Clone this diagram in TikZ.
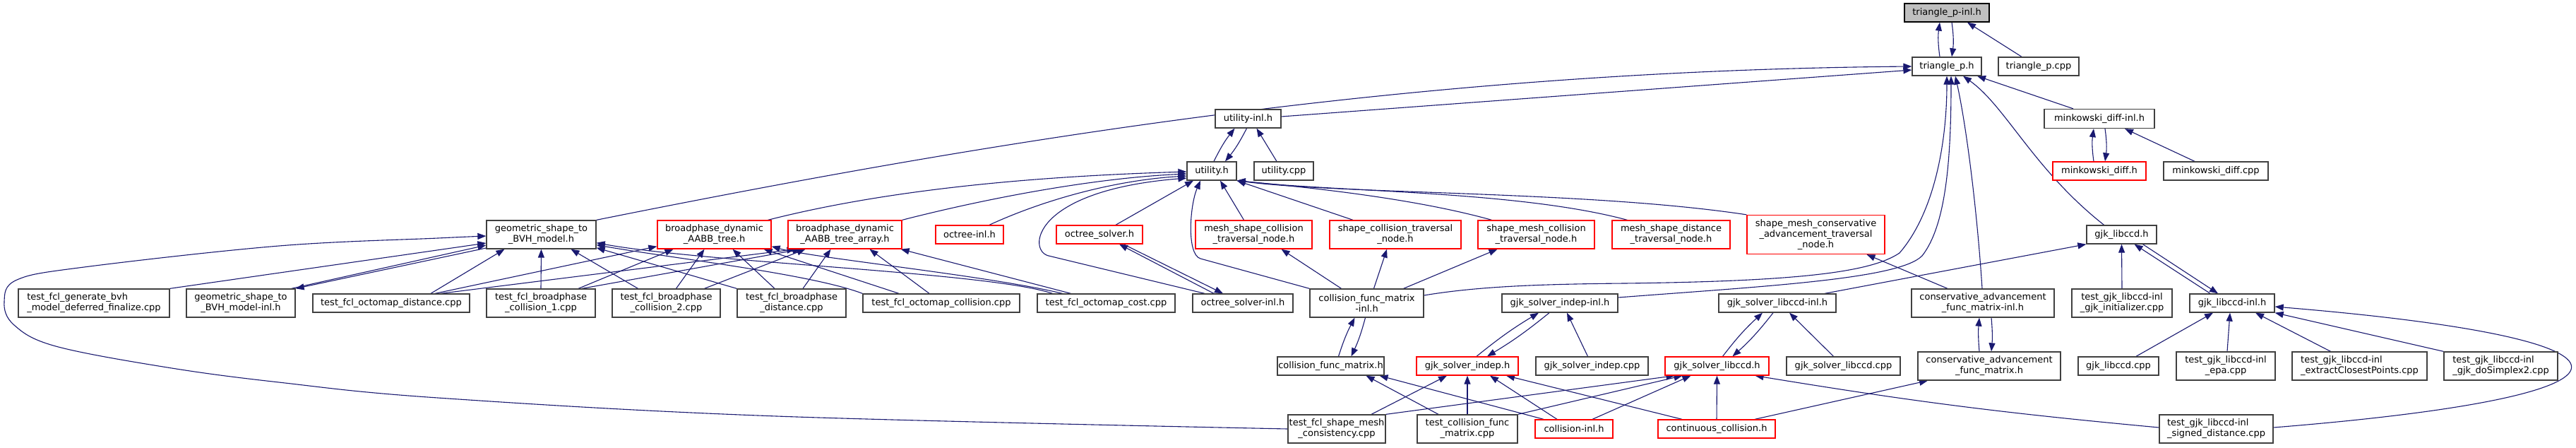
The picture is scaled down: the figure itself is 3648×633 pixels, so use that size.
\documentclass[tikz,border=0pt]{standalone}
\usepackage{fontspec}
\newfontfamily\dvfont{DejaVu Sans}
\usetikzlibrary{arrows.meta}
\definecolor{edgeblue}{HTML}{191970}
\definecolor{nodegray}{HTML}{404040}
\definecolor{rootgray}{HTML}{BFBFBF}
\definecolor{nodered}{HTML}{FF0000}
\pgfdeclarelayer{bg}
\pgfsetlayers{bg,main}
\tikzset{
  nb/.style={draw=nodegray, fill=white, line width=1.3pt, inner sep=0pt, align=center, font=\dvfont\fontsize{13pt}{15pt}\selectfont},
  nr/.style={nb, draw=nodered},
  nroot/.style={nb, draw=black, fill=rootgray},
  edg/.style={draw=edgeblue, line width=1.1pt, -{Triangle[length=12pt,width=9pt]}},
}
\newcommand\bx[6]{\node[#1,minimum width=#2pt,minimum height=#3pt] (#4) at (#5) {#6};}
\begin{document}
\begin{tikzpicture}[x=1pt,y=-1pt]
\useasboundingbox (0,0) rectangle (3648,633);
% rank 1-4
\bx{nroot}{120}{26}{tpinl}{2757,18}{triangle\_p-inl.h}
\bx{nb}{98}{26}{tph}{2757,94}{triangle\_p.h}
\bx{nb}{114}{26}{tpcpp}{2887,94}{triangle\_p.cpp}
\bx{nb}{156}{27}{mdinl}{2973,168}{minkowski\_diff-inl.h}
\bx{nr}{132}{26}{mdh}{2973,242}{minkowski\_diff.h}
\bx{nb}{148}{26}{mdcpp}{3138,242}{minkowski\_diff.cpp}
\bx{nb}{93}{26}{uinl}{1767.5,168}{utility-inl.h}
\bx{nb}{70}{26}{uh}{1716,242}{utility.h}
\bx{nb}{84}{26}{ucpp}{1818,242}{utility.cpp}
% rank 5
\bx{nb}{155}{40}{geo}{766.5,332}{geometric\_shape\_to\\\_BVH\_model.h}
\bx{nr}{161}{40}{bdt}{1011.5,332}{broadphase\_dynamic\\\_AABB\_tree.h}
\bx{nr}{161}{40}{bdta}{1196.5,332}{broadphase\_dynamic\\\_AABB\_tree\_array.h}
\bx{nr}{96}{26}{oinl}{1373,332}{octree-inl.h}
\bx{nr}{122}{26}{os}{1557,332}{octree\_solver.h}
\bx{nr}{165}{40}{mscol}{1775.5,332}{mesh\_shape\_collision\\\_traversal\_node.h}
\bx{nr}{186}{40}{sct}{1976,332}{shape\_collision\_traversal\\\_node.h}
\bx{nr}{165}{40}{smct}{2175.5,332}{shape\_mesh\_collision\\\_traversal\_node.h}
\bx{nr}{167}{40}{msdt}{2366.5,332}{mesh\_shape\_distance\\\_traversal\_node.h}
\bx{nr}{195}{55}{smca}{2571.5,332}{shape\_mesh\_conservative\\\_advancement\_traversal\\\_node.h}
\bx{nb}{99}{26}{gjkh}{3004.5,332}{gjk\_libccd.h}
% rank 6
\bx{nb}{214}{40}{tgen}{133,429}{\begin{tabular}{@{}l@{}}test\_fcl\_generate\_bvh\\\_model\_deferred\_finalize.cpp\end{tabular}}
\bx{nb}{154}{40}{geoinl}{341,429}{geometric\_shape\_to\\\_BVH\_model-inl.h}
\bx{nb}{222}{26}{tod}{554,429}{test\_fcl\_octomap\_distance.cpp}
\bx{nb}{154}{40}{tbc1}{766,429}{test\_fcl\_broadphase\\\_collision\_1.cpp}
\bx{nb}{153}{40}{tbc2}{943.5,429}{test\_fcl\_broadphase\\\_collision\_2.cpp}
\bx{nb}{154}{40}{tbd}{1121,429}{test\_fcl\_broadphase\\\_distance.cpp}
\bx{nb}{222}{26}{toc}{1333,429}{test\_fcl\_octomap\_collision.cpp}
\bx{nb}{195}{26}{tocost}{1566.5,429}{test\_fcl\_octomap\_cost.cpp}
\bx{nb}{142}{26}{osinl}{1760,429}{octree\_solver-inl.h}
\bx{nb}{161}{40}{cfminl}{1935.5,429}{collision\_func\_matrix\\-inl.h}
\bx{nb}{164}{26}{gsiinl}{2209,429}{gjk\_solver\_indep-inl.h}
\bx{nb}{166}{26}{gslinl}{2517,429}{gjk\_solver\_libccd-inl.h}
\bx{nb}{202}{40}{cafminl}{2808,429}{conservative\_advancement\\\_func\_matrix-inl.h}
\bx{nb}{142}{40}{tgjkinit}{3005,429}{test\_gjk\_libccd-inl\\\_gjk\_initializer.cpp}
\bx{nb}{120}{26}{gjkinl}{3161,429}{gjk\_libccd-inl.h}
% rank 7
\bx{nb}{151}{26}{cfmh}{1884.5,518}{collision\_func\_matrix.h}
\bx{nr}{144}{26}{gsih}{2078,518}{gjk\_solver\_indep.h}
\bx{nb}{159}{26}{gsicpp}{2254.5,518}{gjk\_solver\_indep.cpp}
\bx{nr}{147}{26}{gslh}{2431.5,518}{gjk\_solver\_libccd.h}
\bx{nb}{161}{26}{gslcpp}{2610.5,518}{gjk\_solver\_libccd.cpp}
\bx{nb}{202}{40}{cafmh}{2817,518}{conservative\_advancement\\\_func\_matrix.h}
\bx{nb}{114}{26}{gjkcpp}{3000,518}{gjk\_libccd.cpp}
\bx{nb}{140}{40}{tepa}{3152,518}{test\_gjk\_libccd-inl\\\_epa.cpp}
\bx{nb}{191}{40}{tecp}{3341.5,518}{\begin{tabular}{@{}l@{}}test\_gjk\_libccd-inl\\\_extractClosestPoints.cpp\end{tabular}}
\bx{nb}{161}{40}{tds2}{3541.5,518}{\begin{tabular}{@{}l@{}}test\_gjk\_libccd-inl\\\_gjk\_doSimplex2.cpp\end{tabular}}
% rank 8
\bx{nb}{138}{40}{tsmc}{1893,607}{test\_fcl\_shape\_mesh\\\_consistency.cpp}
\bx{nb}{142}{40}{tcfm}{2078,607}{test\_collision\_func\\\_matrix.cpp}
\bx{nr}{110}{26}{cinl}{2229,607}{collision-inl.h}
\bx{nr}{166}{26}{cc}{2431,607}{continuous\_collision.h}
\bx{nb}{161}{40}{tsd}{3138.5,607}{\begin{tabular}{@{}l@{}}test\_gjk\_libccd-inl\\\_signed\_distance.cpp\end{tabular}}

\begin{pgfonlayer}{bg}
\fill[white] (0,0) rectangle (3648,633);
% top cluster
\draw[edg] ([xshift=-10pt]tph.north) to[bend left=8] ([xshift=-10pt]tpinl.south);
\draw[edg] ([xshift=7pt]tpinl.south) to[bend left=8] ([xshift=7pt]tph.north);
\draw[edg] ([xshift=-24pt]tpcpp.north) -- ([xshift=29pt]tpinl.south);
\draw[edg] (geo.north east) .. controls (1400,200) and (2000,100) .. (tph.west);
\draw[edg] ([yshift=3pt]uinl.east) -- ([yshift=-5pt]tph.west);
\draw[edg] ([yshift=11pt]cfminl.east) .. controls (2100,404) and (2200,402) .. (2300,401) .. controls (2550,398) and (2650,385) .. (2690,358) .. controls (2740,300) and (2757,200) .. (tph.south);
\draw[edg] ([yshift=8pt]gsiinl.east) .. controls (2500,405) and (2690,395) .. (2722,362) .. controls (2755,320) and (2763,230) .. ([xshift=6pt]tph.south);
\draw[edg] ([xshift=-1pt]cafminl.north) .. controls (2800,300) and (2785,180) .. ([xshift=12pt]tph.south);
\draw[edg] ([xshift=-25pt]gjkh.north) .. controls (2880,240) and (2840,150) .. ([xshift=23pt]tph.south);
\draw[edg] ([xshift=-37pt]mdinl.north) -- ([xshift=43pt]tph.south);
\draw[edg] ([xshift=-8pt]mdh.north) to[bend left=8] ([xshift=-8pt]mdinl.south);
\draw[edg] ([xshift=8pt]mdinl.south) to[bend left=8] ([xshift=8pt]mdh.north);
\draw[edg] ([xshift=-30pt]mdcpp.north) -- ([xshift=36pt]mdinl.south);
% utility cluster
\draw[edg] ([xshift=-60pt]sct.north) -- (uh.south east);
\draw[edg] ([xshift=-63pt]smct.north) .. controls (2000,280) and (1850,265) .. (uh.south east);
\draw[edg] ([xshift=-62pt]msdt.north) .. controls (2150,270) and (1900,272) .. (uh.south east);
\draw[edg] (smca.north west) .. controls (2250,270) and (1900,275) .. (uh.south east);
\draw[edg] ([xshift=-14pt]mscol.north) -- ([xshift=12pt]uh.south);
\draw[edg] ([xshift=23pt]os.north) -- ([xshift=-26pt]uh.south);
\draw[edg] ([xshift=-54pt]osinl.north) -- (1485,362) .. controls (1455,355) and (1460,270) .. ([yshift=-10pt]uh.west);
\draw[edg] (cfminl.north west) -- (1700,366) .. controls (1680,360) and (1685,290) .. ([xshift=-16pt]uh.south);
\draw[edg] ([xshift=76pt]bdt.north) .. controls (1250,270) and (1450,250) .. ([yshift=-1pt]uh.west);
\draw[edg] (bdta.north east) .. controls (1400,280) and (1550,252) .. ([yshift=-4pt]uh.west);
\draw[edg] ([xshift=28pt]oinl.north) .. controls (1480,282) and (1580,255) .. ([yshift=-7pt]uh.west);
\draw[edg] ([xshift=3pt]uh.north) to[bend left=6] ([xshift=-19pt]uinl.south);
\draw[edg] ([xshift=-2pt]uinl.south) to[bend left=6] ([xshift=19pt]uh.north);
\draw[edg] ([xshift=-10pt]ucpp.north) -- ([xshift=12pt]uinl.south);
\draw[edg] ([xshift=-41pt]osinl.north) -- ([xshift=28pt]os.south);
\draw[edg] ([xshift=34pt]os.south) -- ([xshift=-28pt]osinl.north);
% collision func matrix
\draw[edg] ([xshift=-36pt]cfminl.north) -- ([xshift=39pt]mscol.south);
\draw[edg] ([xshift=10pt]cfminl.north) -- ([xshift=-12pt]sct.south);
\draw[edg] ([xshift=52pt]cfminl.north) -- ([xshift=-55pt]smct.south);
\draw[edg] ([xshift=11pt]cfmh.north) to[bend left=5] ([xshift=-17pt]cfminl.south);
\draw[edg] ([xshift=-2pt]cfminl.south) to[bend left=5] ([xshift=29pt]cfmh.north);
% gjk solver indep
\draw[edg] ([xshift=13pt]gsih.north) to[bend left=4] ([xshift=-30pt]gsiinl.south);
\draw[edg] ([xshift=-15pt]gsiinl.south) to[bend left=4] ([xshift=28pt]gsih.north);
\draw[edg] ([xshift=-6pt]gsicpp.north) -- ([xshift=10pt]gsiinl.south);
\draw[edg] ([xshift=49pt]tsmc.north) -- ([xshift=-29pt]gsih.south);
\draw[edg] (tcfm.north) -- (gsih.south);
\draw[edg] ([xshift=-24pt]cinl.north) -- ([xshift=32pt]gsih.south);
\draw[edg] ([xshift=-49pt]cc.north) -- ([xshift=55pt]gsih.south);
\draw[edg] (tsmc.north east) -- ([xshift=-60pt]gslh.south);
\draw[edg] (tcfm.north east) -- ([xshift=-49pt]gslh.south);
\draw[edg] ([xshift=26pt]cinl.north) -- ([xshift=-37pt]gslh.south);
\draw[edg] ([xshift=-43pt]cinl.north) -- ([xshift=69pt]cfmh.south);
\draw[edg] ([xshift=-41pt]tcfm.north) -- ([xshift=50pt]cfmh.south);
\draw[edg] (cc.north) -- (gslh.south);
\draw[edg] ([xshift=54pt]cc.north) -- ([xshift=-87pt]cafmh.south);
\draw[edg] ([yshift=2pt]tsd.west) to[bend left=2] ([xshift=54pt]gslh.south);
\draw[edg] ([yshift=2pt]tsd.east) .. controls (3780,560) and (3780,480) .. ([yshift=-5pt]gjkinl.east);
% gjk libccd
\draw[edg] ([xshift=8pt]gslh.north) to[bend left=5] ([xshift=-21pt]gslinl.south);
\draw[edg] ([xshift=-6pt]gslinl.south) to[bend left=5] ([xshift=22pt]gslh.north);
\draw[edg] ([xshift=-14pt]gslcpp.north) -- ([xshift=17pt]gslinl.south);
\draw[edg] ([xshift=67pt]gslinl.north) -- (gjkh.south west);
\draw[edg] ([xshift=-14pt]cafmh.north) to[bend left=5] ([xshift=-5pt]cafminl.south);
\draw[edg] ([xshift=12pt]cafminl.south) to[bend left=5] ([xshift=3pt]cafmh.north);
\draw[edg] ([xshift=-50pt]cafminl.north) -- ([xshift=72pt]smca.south);
\draw[edg] (tgjkinit.north) -- (gjkh.south);
\draw[edg] ([xshift=-31pt]gjkinl.north) -- ([xshift=18pt]gjkh.south);
\draw[edg] ([xshift=30pt]gjkh.south) -- ([xshift=-20pt]gjkinl.north);
\draw[edg] ([xshift=25pt]gjkcpp.north) -- ([xshift=-27pt]gjkinl.south);
\draw[edg] ([xshift=2pt]tepa.north) -- ([xshift=-3pt]gjkinl.south);
\draw[edg] ([xshift=-41pt]tecp.north) -- ([xshift=33pt]gjkinl.south);
\draw[edg] (tds2.north west) -- (gjkinl.south east);
% geometric / broadphase
\draw[edg] (tgen.north east) -- ([yshift=-12pt]geo.west);
\draw[edg] plot[smooth, tension=0.6] coordinates {(tsmc.west) (1100,589) (620,563) (395,541) (237,520) (79,490) (20,460) (6,427) (24,396) (119,378) (395,348) (620,337) ([yshift=-2pt]geo.west)};
\draw[edg] ([xshift=-6pt]geoinl.north east) -- ([yshift=-15pt]geo.west);
\draw[edg] ([yshift=-19pt]geo.west) -- (geoinl.north east);
\draw[edg] ([xshift=56pt]tod.north) -- ([xshift=-52pt]geo.south);
\draw[edg] (tbc1.north) -- (geo.south);
\draw[edg] ([xshift=-40pt]tbc2.north) -- ([xshift=42pt]geo.south);
\draw[edg] (tbd.north west) -- ([yshift=2pt]geo.south east);
\draw[edg] (toc.north west) .. controls (1150,388) and (950,365) .. ([yshift=6pt]geo.south east);
\draw[edg] ([xshift=-76pt]tocost.north) .. controls (1400,385) and (1000,372) .. ([yshift=9pt]geo.south east);
\draw[edg] ([xshift=62pt]tod.north) -- ([yshift=4pt]bdt.south west);
\draw[edg] ([xshift=53pt]tbc1.north) -- ([xshift=-58pt]bdt.south);
\draw[edg] ([xshift=14pt]tbc2.north) -- ([xshift=-14pt]bdt.south);
\draw[edg] ([xshift=-24pt]tbd.north) -- ([xshift=26pt]bdt.south);
\draw[edg] ([xshift=-60pt]toc.north) -- ([xshift=70pt]bdt.south);
\draw[edg] ([xshift=-62pt]tocost.north) .. controls (1400,390) and (1150,365) .. ([yshift=4pt]bdt.south east);
\draw[edg] ([xshift=70pt]tod.north) -- ([xshift=-70pt]bdta.south);
\draw[edg] ([xshift=58pt]tbc1.north) -- ([xshift=-62pt]bdta.south);
\draw[edg] ([xshift=54pt]tbc2.north) -- ([xshift=-56pt]bdta.south);
\draw[edg] ([xshift=16pt]tbd.north) -- ([xshift=-20pt]bdta.south);
\draw[edg] ([xshift=-17pt]toc.north) -- ([xshift=35pt]bdta.south);
\draw[edg] ([xshift=-50pt]tocost.north) -- ([xshift=-2pt]bdta.south east);
\end{pgfonlayer}
\end{tikzpicture}
\end{document}
